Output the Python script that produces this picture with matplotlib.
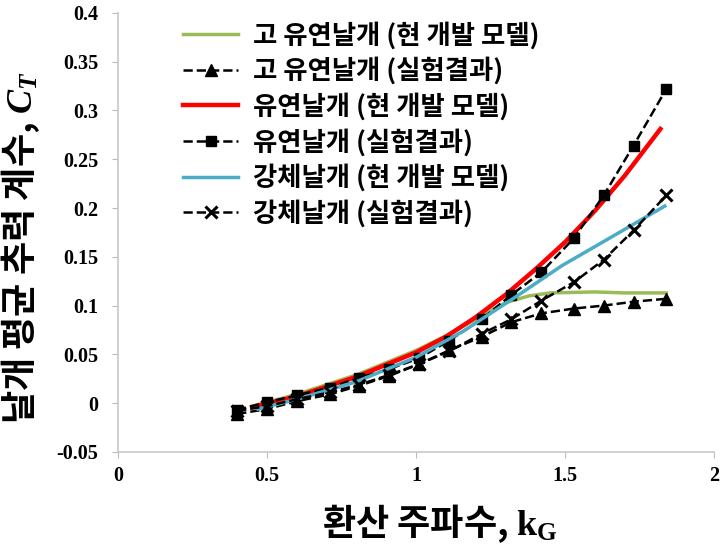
import matplotlib
matplotlib.use('Agg')
from matplotlib import pyplot as plt
import numpy as np

plt.rcParams['font.family'] = ['Noto Sans CJK KR', 'DejaVu Sans']
plt.rcParams['mathtext.fontset'] = 'custom'
plt.rcParams['mathtext.rm'] = 'Liberation Serif:bold'
plt.rcParams['mathtext.it'] = 'Liberation Serif:italic:bold'

# experiment points (reduced frequency)
k_exp = [0.40, 0.50, 0.60, 0.71, 0.81, 0.91, 1.01, 1.11, 1.22, 1.32, 1.42, 1.53, 1.63, 1.73, 1.84]
ct_high_exp = [-0.011, -0.006, 0.002, 0.009, 0.018, 0.028, 0.040, 0.054, 0.068, 0.083, 0.092, 0.097, 0.100, 0.104, 0.107]
ct_flex_exp = [-0.007, 0.001, 0.008, 0.016, 0.026, 0.035, 0.046, 0.064, 0.086, 0.111, 0.134, 0.169, 0.213, 0.264, 0.322]
ct_rigid_exp = [-0.008, -0.003, 0.004, 0.011, 0.019, 0.029, 0.040, 0.053, 0.071, 0.086, 0.105, 0.124, 0.147, 0.177, 0.213]

# present model curves
k_high = [0.45, 0.6, 0.8, 1.0, 1.1, 1.2, 1.3, 1.38, 1.45, 1.6, 1.7, 1.84]
ct_high = [-0.003, 0.009, 0.029, 0.054, 0.069, 0.086, 0.103, 0.110, 0.113, 0.114, 0.113, 0.113]
k_flex = [0.45, 0.6, 0.8, 1.0, 1.1, 1.2, 1.3, 1.4, 1.5, 1.6, 1.7, 1.82]
ct_flex = [-0.004, 0.007, 0.027, 0.052, 0.068, 0.088, 0.111, 0.137, 0.165, 0.197, 0.233, 0.281]
k_rigid = [0.47, 0.6, 0.8, 1.0, 1.16, 1.33, 1.49, 1.66, 1.835]
ct_rigid = [-0.006, 0.004, 0.022, 0.047, 0.074, 0.108, 0.141, 0.171, 0.202]

labels = ['고 유연날개 (현 개발 모델)', '고 유연날개 (실험결과)',
          '유연날개 (현 개발 모델)', '유연날개 (실험결과)',
          '강체날개 (현 개발 모델)', '강체날개 (실험결과)']

fig = plt.figure(figsize=(7.26, 5.58), dpi=100)
ax = fig.add_axes([0.1625, 0.19, 0.821, 0.787])

ax.plot(k_high, ct_high, color='#9BBB59', lw=2.5, label=labels[0])
ax.plot(k_exp, ct_high_exp, 'k--', marker='^', ms=8, lw=1.8, label=labels[1])
ax.plot(k_flex, ct_flex, color='#FF0000', lw=3.2, label=labels[2])
ax.plot(k_exp, ct_flex_exp, 'k--', marker='s', ms=7, lw=1.8, label=labels[3])
ax.plot(k_rigid, ct_rigid, color='#4BACC6', lw=2.5, label=labels[4])
ax.plot(k_exp, ct_rigid_exp, 'k--', marker='x', ms=9, mew=2.2, lw=1.8, label=labels[5])

ax.set_xlim(0, 2)
ax.set_ylim(-0.05, 0.4)
ax.set_xticks([0, 0.5, 1, 1.5, 2])
ax.set_xticklabels(['0', '0.5', '1', '1.5', '2'])
ax.set_yticks(np.arange(-0.05, 0.401, 0.05))
ax.set_yticklabels(['-0.05', '0', '0.05', '0.1', '0.15', '0.2', '0.25', '0.3', '0.35', '0.4'])
for lab in ax.get_xticklabels() + ax.get_yticklabels():
    lab.set_fontfamily('Liberation Serif')
    lab.set_fontweight('bold')
    lab.set_fontsize(14.5)
ax.tick_params(axis='y', direction='out', length=4, color='#bbbbbb', pad=10)
ax.tick_params(axis='x', direction='out', length=4, color='#bbbbbb', pad=6)

for s in ['top', 'right']:
    ax.spines[s].set_visible(False)
for s in ['left', 'bottom']:
    ax.spines[s].set_color('#c8c8c8')
    ax.spines[s].set_linewidth(1.2)

ax.set_xlabel('환산 주파수, $\\mathrm{k_G}$', fontsize=26, fontweight='bold')
ax.set_ylabel('날개 평균 추력 계수, $C_T$', fontsize=26, fontweight='bold')
ax.xaxis.set_label_coords(0.54, -0.115)
ax.yaxis.set_label_coords(-0.128, 0.465)

ax.legend(loc='upper left', bbox_to_anchor=(0.109, 0.98), frameon=False,
          handlelength=2.1, handletextpad=0.55, labelspacing=0.3,
          borderpad=0.0, borderaxespad=0.0,
          prop={'weight': 'bold', 'size': 19})

plt.savefig('out.png', dpi=100)
